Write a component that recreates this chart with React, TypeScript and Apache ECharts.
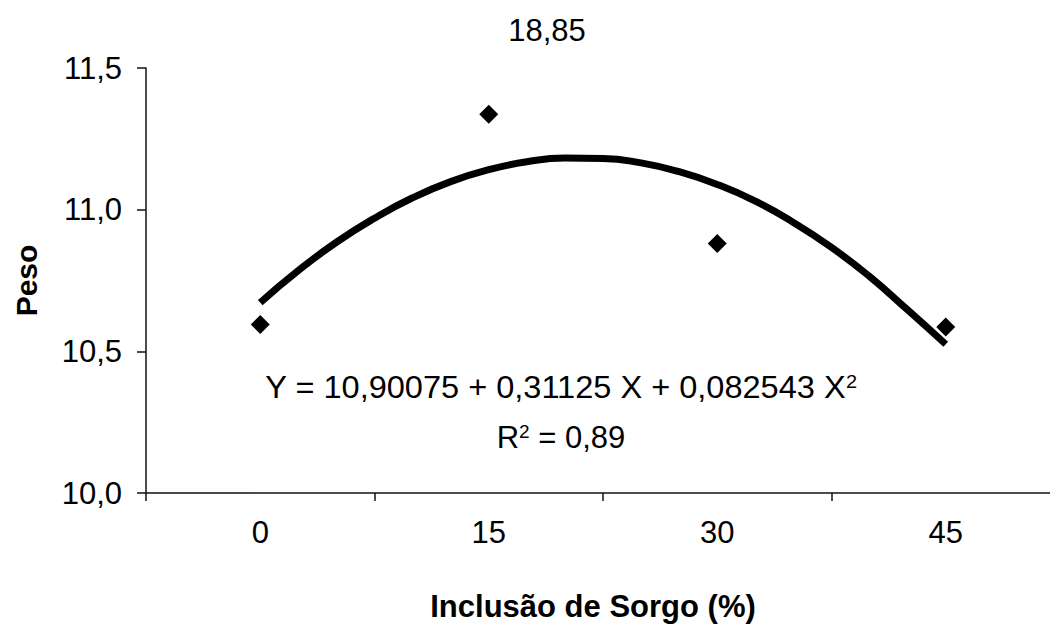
import { useEffect, useRef } from "react";
import * as echarts from "echarts";

// Sorghum inclusion levels (%) shown as categories on the x axis
const categories = ["0", "15", "30", "45"];
const inclusionLevels = [0, 15, 30, 45];
// Mean weight observed at each inclusion level
const observedWeight = [10.595, 11.337, 10.881, 10.586];
// Fitted quadratic response, sampled along the inclusion range
const fitX = [0, 2.5, 5, 7.5, 10, 12.5, 15, 17.5, 20, 22.5, 25, 27.5, 30, 32.5, 35, 37.5, 40, 42.5, 45];
const fitY = [10.672, 10.785, 10.885, 10.97, 11.042, 11.099, 11.141, 11.169, 11.182, 11.181, 11.165, 11.134, 11.089, 11.03, 10.955, 10.867, 10.764, 10.646, 10.525];

const yMin = 10;
const yMax = 11.5;
const yStep = 0.5;

const topNote = "18,85";
const equationMain = "Y = 10,90075 + 0,31125 X + 0,082543 X";
const rSquaredValue = "0,89";
const xTitle = "Inclusão de Sorgo (%)";
const yTitle = "Peso";

const FONT = "'Liberation Sans', Arial, sans-serif";
const TEXT_SIZE = 31;

export default function App() {
  const ref = useRef<HTMLDivElement>(null);

  useEffect(() => {
    if (!ref.current) return;
    const chart = echarts.init(ref.current, null, { renderer: "svg" });

    const scatterData = inclusionLevels.map((x, i) => [x, observedWeight[i]]);
    const fitData = fitX.map((x, i) => [x, fitY[i]]);

    chart.setOption({
      animation: false,
      backgroundColor: "#ffffff",
      textStyle: { fontFamily: FONT, color: "#000" },
      grid: {
        left: 146,
        top: 68,
        right: -10,
        bottom: 134,
        containLabel: false,
        outerBoundsMode: "none",
      },
      xAxis: [
        {
          type: "category",
          data: categories,
          boundaryGap: true,
          axisLine: { show: true, onZero: false, lineStyle: { color: "#111", width: 1.5 } },
          axisTick: { show: true, length: 8, alignWithLabel: false, lineStyle: { color: "#111", width: 1.5 } },
          axisLabel: { fontSize: TEXT_SIZE, color: "#000", fontFamily: FONT, margin: 24 },
          splitLine: { show: false },
        },
        {
          type: "value",
          min: -7.5,
          max: 52.5,
          show: false,
          axisLine: { show: false, onZero: false },
          splitLine: { show: false },
        },
      ],
      yAxis: {
        type: "value",
        min: yMin,
        max: yMax,
        interval: yStep,
        name: yTitle,
        nameLocation: "middle",
        nameRotate: 90,
        nameGap: 105,
        nameTextStyle: { fontSize: 30, fontWeight: "bold", color: "#000", fontFamily: FONT },
        axisLine: { show: true, onZero: false, lineStyle: { color: "#111", width: 1.5 } },
        axisTick: { show: true, length: 9, lineStyle: { color: "#111", width: 1.5 } },
        axisLabel: {
          fontSize: TEXT_SIZE,
          color: "#000",
          fontFamily: FONT,
          margin: 24,
          formatter: (v: number) => v.toFixed(1).replace(".", ","),
        },
        splitLine: { show: false },
      },
      series: [
        {
          type: "line",
          xAxisIndex: 1,
          data: fitData,
          smooth: true,
          showSymbol: false,
          symbol: "none",
          lineStyle: { color: "#000", width: 7 },
          z: 2,
        },
        {
          type: "scatter",
          xAxisIndex: 1,
          data: scatterData,
          symbol: "diamond",
          symbolSize: 19,
          itemStyle: { color: "#000", opacity: 1 },
          z: 3,
        },
      ],
      graphic: [
        {
          type: "text",
          x: 547,
          y: 30,
          style: {
            text: topNote,
            fontSize: TEXT_SIZE,
            fontFamily: FONT,
            fill: "#000",
            align: "center",
            verticalAlign: "middle",
          },
        },
        {
          type: "text",
          x: 561,
          y: 387,
          scaleX: 1.05,
          originX: 0,
          originY: 0,
          style: {
            text: `{m|${equationMain}}{s|2}`,
            fontFamily: FONT,
            fill: "#000",
            align: "center",
            verticalAlign: "middle",
            rich: {
              m: { fontSize: TEXT_SIZE, fontFamily: FONT, fill: "#000" },
              s: { fontSize: 19, fontFamily: FONT, fill: "#000", verticalAlign: "top" },
            },
          },
        },
        {
          type: "text",
          x: 561,
          y: 437,
          style: {
            text: `{m|R}{s|2}{m| = ${rSquaredValue}}`,
            fontFamily: FONT,
            fill: "#000",
            align: "center",
            verticalAlign: "middle",
            rich: {
              m: { fontSize: TEXT_SIZE, fontFamily: FONT, fill: "#000" },
              s: { fontSize: 19, fontFamily: FONT, fill: "#000", verticalAlign: "top" },
            },
          },
        },
        {
          type: "text",
          x: 593,
          y: 606,
          style: {
            text: xTitle,
            fontSize: 31,
            fontWeight: "bold",
            fontFamily: FONT,
            fill: "#000",
            align: "center",
            verticalAlign: "middle",
          },
        },
      ],
    });

    return () => chart.dispose();
  }, []);

  return (
    <div
      ref={ref}
      style={{ position: "absolute", left: 0, top: 0, width: 1050, height: 627 }}
    />
  );
}
